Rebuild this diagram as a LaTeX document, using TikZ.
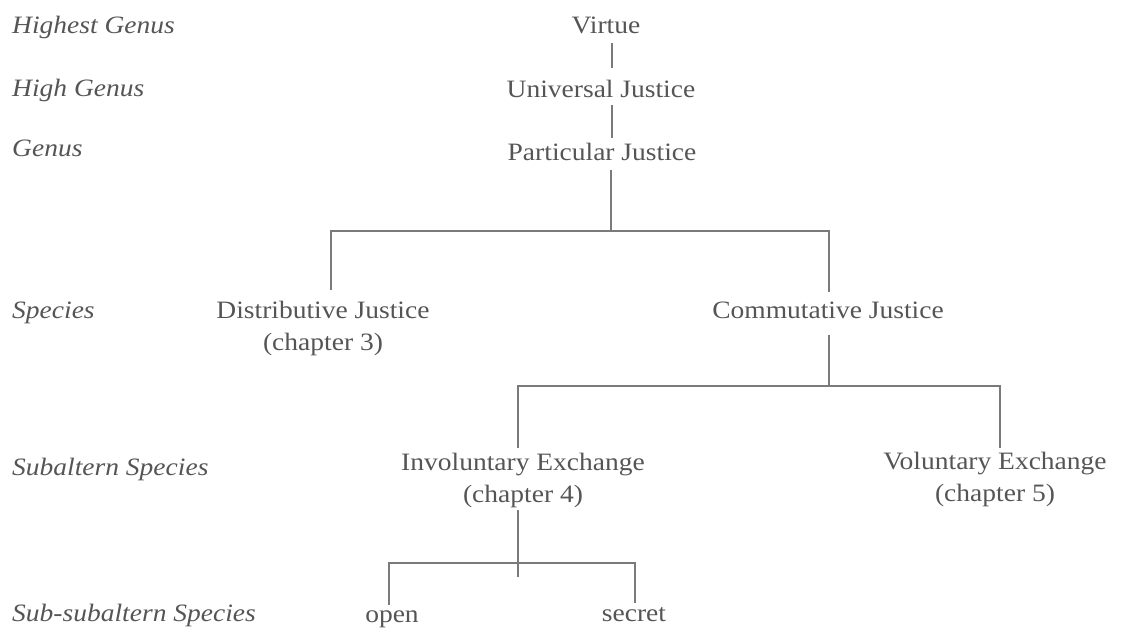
\documentclass[tikz,border=0pt]{standalone}
\usepackage{fontspec}
\setmainfont[FakeStretch=1.1]{Liberation Serif}
\definecolor{ink}{HTML}{555555}
\definecolor{rule}{HTML}{7A7A7A}
\tikzset{
  lvl/.style={anchor=base west, inner sep=0pt, text=ink, font=\fontsize{25}{30}\selectfont\itshape},
  term/.style={anchor=base, inner sep=0pt, text=ink, align=center, font=\fontsize{25}{32}\selectfont},
  link/.style={draw=rule, line width=1.1pt},
  thick link/.style={draw=rule, line width=2pt}
}
\begin{document}
\begin{tikzpicture}[x=1pt,y=-1pt]
\useasboundingbox (0,0) rectangle (1124,629);
% level labels
\node[lvl] (l1) at (12,33) {Highest Genus};
\node[lvl] (l2) at (12,96) {High Genus};
\node[lvl] (l3) at (12,156) {Genus};
\node[lvl] (l4) at (12,318) {Species};
\node[lvl] (l5) at (12,475) {Subaltern Species};
\node[lvl] (l6) at (12,621) {Sub-subaltern Species};
% terms (base anchor = baseline of the last line)
\node[term] (v) at (606,33) {Virtue};
\node[term] (uj) at (601,97) {Universal Justice};
\node[term] (pj) at (602,160) {Particular Justice};
\node[term] (dj) at (323,350) {Distributive Justice\\(chapter 3)};
\node[term] (cj) at (828,318) {Commutative Justice};
\node[term] (ie) at (523,502) {Involuntary Exchange\\(chapter 4)};
\node[term] (ve) at (995,501) {Voluntary Exchange\\(chapter 5)};
\node[term] (op) at (392,622) {open};
\node[term] (se) at (634,621) {secret};
% junction points
\coordinate (a1) at (612,43);   \coordinate (a2) at (612,68);
\coordinate (b1) at (612,105);  \coordinate (b2) at (612,138);
\coordinate (c1) at (611,170);  \coordinate (c2) at (611,231);
\coordinate (cL) at (331,231);  \coordinate (cR) at (829,231);
\coordinate (cLd) at (331,290); \coordinate (cRd) at (829,292);
\coordinate (d1) at (829,335);  \coordinate (d2) at (829,386);
\coordinate (dL) at (518,386);  \coordinate (dR) at (1000,386);
\coordinate (dLd) at (518,448); \coordinate (dRd) at (1000,448);
\coordinate (e1) at (518,510);  \coordinate (e2) at (518,577);
\coordinate (eL) at (389,563);  \coordinate (eR) at (635,563);
\coordinate (eLd) at (389,605); \coordinate (eRd) at (635,603);
% connectors
\draw[link] (a1) -- (a2);
\draw[thick link] (b1) -- (b2);
\draw[link] (c1) -- (c2);
\draw[link] (cLd) -- (cL) -- (cR) -- (cRd);
\draw[link] (d1) -- (d2);
\draw[link] (dLd) -- (dL) -- (dR) -- (dRd);
\draw[link] (e1) -- (e2);
\draw[link] (eLd) -- (eL) -- (eR) -- (eRd);
\end{tikzpicture}
\end{document}
